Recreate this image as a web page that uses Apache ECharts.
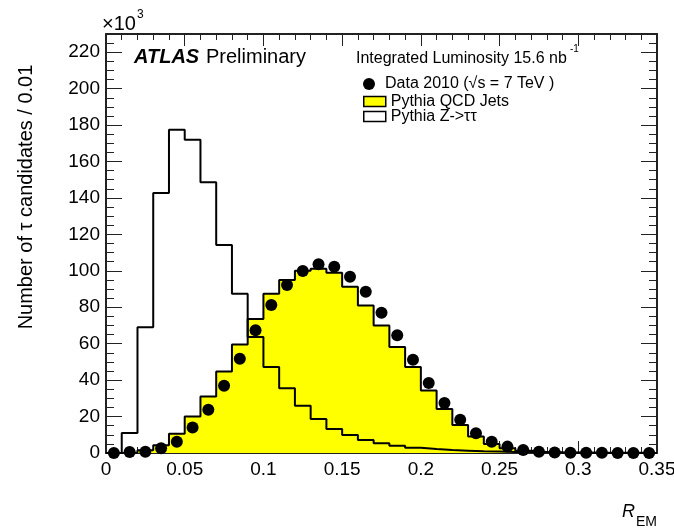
<!DOCTYPE html>
<html><head><meta charset="utf-8">
<script src="https://cdn.jsdelivr.net/npm/echarts@6/dist/echarts.min.js"></script>
<style>html,body{margin:0;padding:0;background:#fff}#chart{width:674px;height:528px}</style>
</head><body><div id="chart"></div>
<script>
// ---- data (values in units of 10^3 candidates per 0.01 bin) ----
const binWidth = 0.01;
const binLowEdges = [0.00,0.01,0.02,0.03,0.04,0.05,0.06,0.07,0.08,0.09,0.10,0.11,0.12,0.13,0.14,0.15,0.16,0.17,0.18,0.19,0.20,0.21,0.22,0.23,0.24,0.25,0.26,0.27,0.28,0.29,0.30,0.31,0.32,0.33,0.34];
const qcdJets = [0, 0.3, 1.5, 4.2, 10.5, 20, 31, 44.8, 59.5, 73.6, 87.4, 95, 100, 101.2, 99, 91.3, 81, 70, 58.2, 47.2, 34.3, 24.2, 15.4, 9, 5, 2.6, 1.2, 0.6, 0.3, 0.15, 0.1, 0.05, 0.03, 0.02, 0.01];
const zTauTau = [0, 11, 69, 142.7, 177.4, 172, 148.6, 114.2, 87.4, 63.7, 47.2, 35.5, 26, 18.7, 13.2, 9.9, 7.2, 5.3, 4.0, 2.9, 2.2, 1.6, 1.3, 1.0, 0.8, 0.6, 0.5, 0.4, 0.3, 0.25, 0.2, 0.15, 0.1, 0.1, 0.05];
const data2010 = [0, 0.5, 0.7, 2.6, 6.2, 14, 23.7, 36.9, 51.8, 67.4, 81.2, 92.2, 99.9, 103.6, 102.3, 96.8, 88.5, 77, 64.6, 51.2, 38.4, 27.4, 18.2, 10.8, 6.2, 3.5, 1.7, 0.7, 0.3, 0.2, 0.1, 0.1, 0.05, 0.03, 0.02];
const xTickLabels = ['0','0.05','0.1','0.15','0.2','0.25','0.3','0.35'];
const yTickLabels = ['0','20','40','60','80','100','120','140','160','180','200','220'];
const seriesNames = ['Data 2010 (√s = 7 TeV )', 'Pythia QCD Jets', 'Pythia Z->ττ'];

const FONT = '"Liberation Sans", Arial, Helvetica, sans-serif';
function stepPoints(vals) {
  const pts = binLowEdges.map((x, i) => [x, vals[i]]);
  const last = binLowEdges.length - 1;
  pts.push([+(binLowEdges[last] + binWidth).toFixed(4), vals[last]]);
  return pts;
}
const dataPts = binLowEdges.map((x, i) => [+(x + binWidth / 2).toFixed(4), data2010[i]]);

const axisColor = '#222';
const xCommon = {
  type: 'value', min: 0, max: 0.35, interval: 0.05,
  axisLine: { show: true, onZero: false, lineStyle: { color: axisColor, width: 2 } },
  axisTick: { show: true, inside: true, length: 12, lineStyle: { color: axisColor, width: 1 } },
  minorTick: { show: true, splitNumber: 5, length: 6, lineStyle: { color: axisColor, width: 1 } },
  splitLine: { show: false }, minorSplitLine: { show: false }
};
const yCommon = {
  type: 'value', min: 0, max: 230, interval: 20,
  axisLine: { show: true, onZero: false, lineStyle: { color: axisColor, width: 2 } },
  axisTick: { show: true, inside: true, length: 16, lineStyle: { color: axisColor, width: 1 } },
  minorTick: { show: true, splitNumber: 4, length: 8, lineStyle: { color: axisColor, width: 1 } },
  splitLine: { show: false }, minorSplitLine: { show: false }
};

const chart = echarts.init(document.getElementById('chart'), null, { renderer: 'canvas' });
chart.setOption({
  animation: false,
  backgroundColor: '#fff',
  grid: { left: 106, right: 17, top: 34, bottom: 75, containLabel: false, outerBoundsMode: 'none' },
  xAxis: [
    Object.assign({}, xCommon, { position: 'bottom',
      axisLabel: { show: true, margin: 7, fontSize: 19, fontFamily: FONT, color: '#000',
        formatter: v => { const k = Math.round(v / 0.05); return Math.abs(v - k * 0.05) < 1e-9 ? (xTickLabels[k] || '') : ''; } } }),
    Object.assign({}, xCommon, { position: 'top', axisLabel: { show: false } })
  ],
  yAxis: [
    Object.assign({}, yCommon, { position: 'left',
      axisLabel: { show: true, margin: 6, fontSize: 19, fontFamily: FONT, color: '#000',
        formatter: v => { const k = Math.round(v / 20); return Math.abs(v - k * 20) < 1e-9 ? (yTickLabels[k] || '') : ''; } } }),
    Object.assign({}, yCommon, { position: 'right', axisLabel: { show: false } })
  ],
  legend: [
    { data: [{ name: seriesNames[0], icon: 'circle', itemStyle: { color: '#000', opacity: 1 } }],
      left: 363, top: 76, padding: 0, itemWidth: 22, itemHeight: 12, selectedMode: false,
      textStyle: { fontSize: 16, fontFamily: FONT, color: '#000' } },
    { data: [{ name: seriesNames[1], icon: 'rect', itemStyle: { color: '#ffff00', borderColor: '#000', borderWidth: 1.5, opacity: 1 } }],
      left: 363, top: 93.5, padding: 0, itemWidth: 22, itemHeight: 10, selectedMode: false,
      textStyle: { fontSize: 16, fontFamily: FONT, color: '#000' } },
    { data: [{ name: seriesNames[2], icon: 'rect', itemStyle: { color: '#fff', borderColor: '#000', borderWidth: 1.5, opacity: 1 } }],
      left: 363, top: 108.5, padding: 0, itemWidth: 22, itemHeight: 10, selectedMode: false,
      textStyle: { fontSize: 16, fontFamily: FONT, color: '#000' } }
  ],
  series: [
    { name: seriesNames[1], type: 'line', step: 'end', data: stepPoints(qcdJets), showSymbol: false, symbol: 'none',
      itemStyle: { color: '#ffff00' }, lineStyle: { color: '#000', width: 2 },
      areaStyle: { color: '#ffff00', opacity: 1 }, z: 2, silent: true },
    { name: seriesNames[2], type: 'line', step: 'end', data: stepPoints(zTauTau), showSymbol: false, symbol: 'none',
      itemStyle: { color: '#fff' }, lineStyle: { color: '#000', width: 2 }, z: 3, silent: true },
    { name: seriesNames[0], type: 'scatter', data: dataPts, symbol: 'circle', symbolSize: 12,
      itemStyle: { color: '#000', opacity: 1 }, z: 4, silent: true }
  ],
  graphic: [
    { type: 'text', x: 102, y: 24.5, style: { text: '×10', font: '20px ' + FONT, fill: '#000', align: 'left', verticalAlign: 'middle' } },
    { type: 'text', x: 137, y: 15, style: { text: '3', font: '12px ' + FONT, fill: '#000', align: 'left', verticalAlign: 'middle' } },
    { type: 'text', x: 134, y: 57.5, style: { text: 'ATLAS', font: 'italic bold 20px ' + FONT, fill: '#000', align: 'left', verticalAlign: 'middle' } },
    { type: 'text', x: 206, y: 57.5, style: { text: 'Preliminary', font: '20px ' + FONT, fill: '#000', align: 'left', verticalAlign: 'middle' } },
    { type: 'text', x: 356, y: 59, style: { text: 'Integrated Luminosity 15.6 nb', font: '16px ' + FONT, fill: '#000', align: 'left', verticalAlign: 'middle' } },
    { type: 'text', x: 570, y: 49, style: { text: '-1', font: '10px ' + FONT, fill: '#000', align: 'left', verticalAlign: 'middle' } },
    { type: 'text', x: 26, y: 197, rotation: Math.PI / 2, style: { text: 'Number of τ candidates / 0.01', font: '20px ' + FONT, fill: '#000', align: 'center', verticalAlign: 'middle' } },
    { type: 'text', x: 622, y: 511.5, style: { text: 'R', font: 'italic 18px ' + FONT, fill: '#000', align: 'left', verticalAlign: 'middle' } },
    { type: 'text', x: 636, y: 522, style: { text: 'EM', font: '14px ' + FONT, fill: '#000', align: 'left', verticalAlign: 'middle' } }
  ]
});
</script>
</body></html>
